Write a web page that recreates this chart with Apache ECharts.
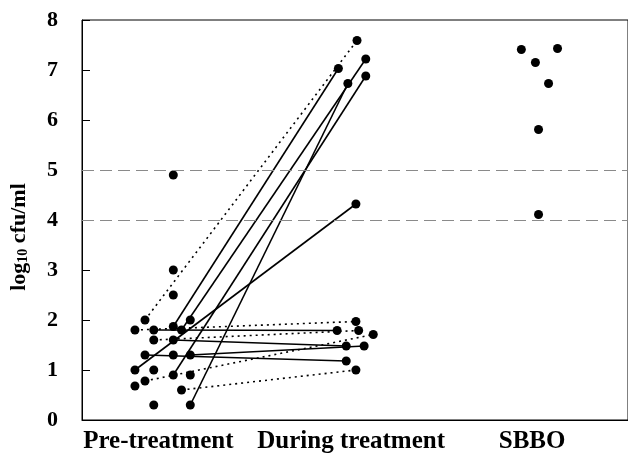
<!DOCTYPE html>
<html>
<head>
<meta charset="utf-8">
<script src="https://cdn.jsdelivr.net/npm/echarts@6/dist/echarts.min.js"></script>
<style>
  html, body { margin: 0; padding: 0; background: #fff; }
  #main { width: 628px; height: 458px; }
</style>
</head>
<body>
<div id="main"></div>
<script>
// groups along the x axis
const groups = ['Pre-treatment', 'During treatment', 'SBBO'];

// pre-treatment: jitter offset inside the group, log10 cfu/ml
const preOffset = [0, 0, 0, -0.155, 0.093, -0.21, -0.107, 0, 0.045, -0.107, 0, -0.155,
  0, 0.093, -0.21, -0.107, 0, 0.093, -0.21, -0.155, 0.045, -0.107, 0.093];
const preValue = [4.9, 3.0, 2.5, 2.0, 2.0, 1.8, 1.8, 1.87, 1.8, 1.6, 1.6, 1.3,
  1.3, 1.3, 1.0, 1.0, 0.9, 0.9, 0.68, 0.78, 0.6, 0.3, 0.3];

// during treatment
const durOffset = [0.006, -0.096, 0.054, -0.044, 0.054, 0, 0, -0.103, 0.015, 0.095, -0.053, 0.045, -0.053, 0];
const durValue = [7.59, 7.03, 7.22, 6.73, 6.88, 4.32, 1.97, 1.79, 1.79, 1.71, 1.48, 1.48, 1.18, 1.0];

// SBBO
const sbboOffset = [-0.094, 0.104, -0.017, 0.055, 0, 0];
const sbboValue = [7.41, 7.43, 7.15, 6.73, 5.81, 4.11];

// same patient: [pre index, during index]
const pairs = [[3, 0], [7, 1], [8, 2], [16, 4], [22, 3], [14, 5], [5, 6],
  [6, 7], [9, 8], [19, 9], [10, 10], [13, 11], [11, 12], [20, 13]];
// pairs drawn with a dotted line
const dottedPairs = [0, 6, 8, 9, 13];

const refLevels = [4, 5];
const yTicks = [0, 1, 2, 3, 4, 5, 6, 7, 8];

const labelAt = [0.918, 1.974, 2.965];
const serif = 'Liberation Serif';

function points(base, offs, vals) {
  return vals.map((v, i) => [base + offs[i], v]);
}

let myChart = echarts.init(document.getElementById('main'));

let series = [];
pairs.forEach((p, i) => {
  series.push({
    type: 'line',
    silent: true,
    symbol: 'none',
    z: 2,
    lineStyle: {
      color: '#000',
      width: 1.6,
      type: dottedPairs.indexOf(i) >= 0 ? [2, 4] : 'solid'
    },
    data: [
      [1 + preOffset[p[0]], preValue[p[0]]],
      [2 + durOffset[p[1]], durValue[p[1]]]
    ]
  });
});

const dot = { color: '#000', opacity: 1 };
series.push({
  type: 'scatter', symbolSize: 9, itemStyle: dot, z: 3,
  data: points(1, preOffset, preValue),
  markLine: {
    silent: true,
    symbol: 'none',
    label: { show: false },
    lineStyle: { color: '#8a8a8a', width: 1, type: [12, 6] },
    data: refLevels.map(v => ({ yAxis: v }))
  }
});
series.push({ type: 'scatter', symbolSize: 9, itemStyle: dot, z: 3, data: points(2, durOffset, durValue) });
series.push({ type: 'scatter', symbolSize: 9, itemStyle: dot, z: 3, data: points(3, sbboOffset, sbboValue) });

let option = {
  animation: false,
  grid: {
    left: 80, right: -10, top: 20, bottom: 38,
    show: true, borderColor: '#000', borderWidth: 1
  },
  xAxis: {
    type: 'value',
    min: 0.5,
    max: 3.49,
    axisLine: { show: true, lineStyle: { color: '#000', width: 1 } },
    axisTick: { show: false },
    splitLine: { show: false },
    axisLabel: {
      customValues: labelAt,
      formatter: function (v) {
        let k = 0;
        labelAt.forEach((a, i) => { if (Math.abs(a - v) < Math.abs(labelAt[k] - v)) k = i; });
        return groups[k];
      },
      color: '#000',
      fontFamily: serif,
      fontWeight: 'bold',
      fontSize: 25,
      margin: 9
    }
  },
  yAxis: {
    type: 'value',
    min: 0,
    max: 8,
    interval: 1,
    name: '{a|log}{s|10}{a| cfu/ml}',
    nameLocation: 'middle',
    nameGap: 52,
    nameTextStyle: {
      padding: [0, 34, 0, 0],
      rich: {
        a: { fontFamily: serif, fontWeight: 'bold', fontSize: 22, color: '#000' },
        s: { fontFamily: serif, fontWeight: 'bold', fontSize: 14, color: '#000', verticalAlign: 'bottom', padding: [8, 0, 0, 0] }
      }
    },
    axisLine: { show: true, lineStyle: { color: '#000', width: 1 } },
    axisTick: { show: true, inside: true, length: 8, lineStyle: { color: '#000' } },
    splitLine: { show: false },
    axisLabel: {
      customValues: yTicks,
      color: '#000',
      fontFamily: serif,
      fontWeight: 'bold',
      fontSize: 22,
      margin: 24
    }
  },
  series: series
};

myChart.setOption(option);
</script>
</body>
</html>
